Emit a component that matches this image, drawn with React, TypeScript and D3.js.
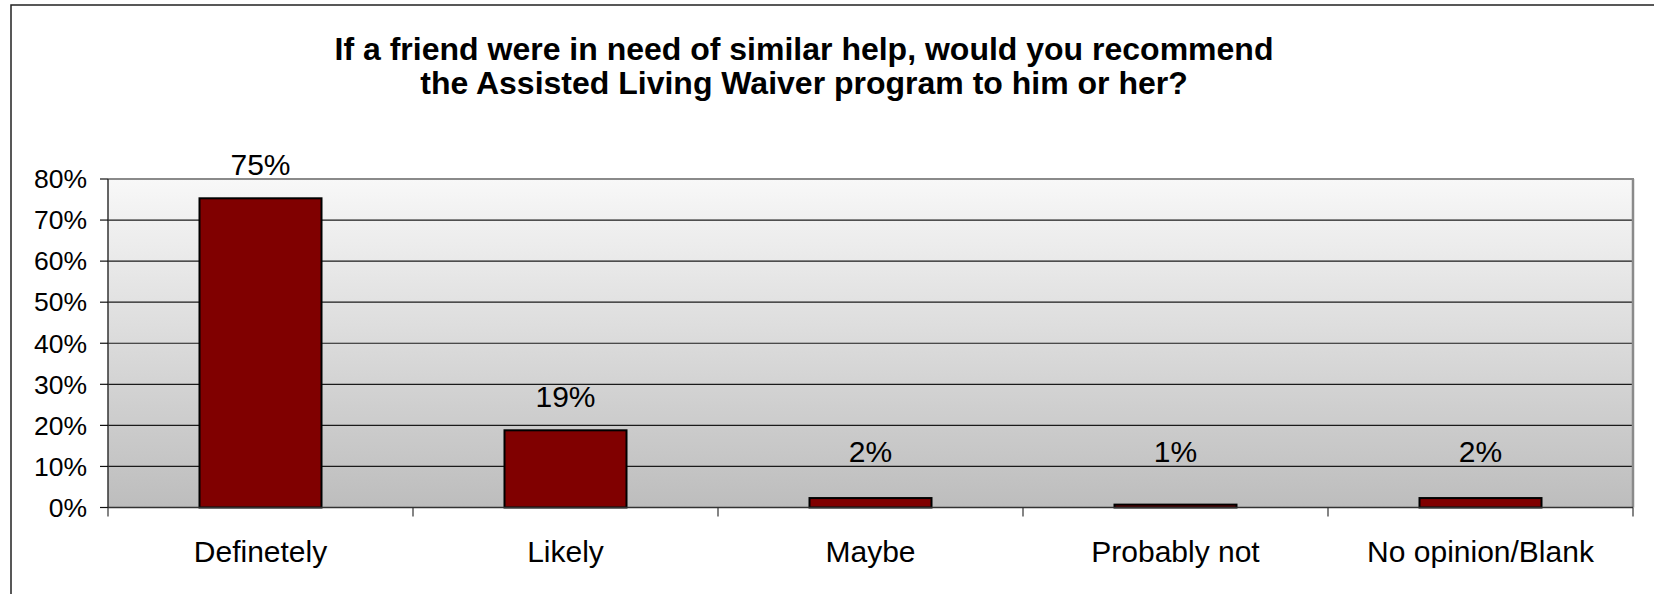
import React from "react";
import * as d3 from "d3";

const categories = ["Definetely", "Likely", "Maybe", "Probably not", "No opinion/Blank"];
const values = [0.753, 0.188, 0.023, 0.007, 0.023];
const valueLabels = ["75%", "19%", "2%", "1%", "2%"];
const yTicks = [0, 0.1, 0.2, 0.3, 0.4, 0.5, 0.6, 0.7, 0.8];
const titleLines = [
  "If a friend were in need of similar help, would you recommend",
  "the Assisted Living Waiver program to him or her?",
];

const W = 1654;
const H = 594;
const FONT = "'Liberation Sans', Arial, Helvetica, sans-serif";

export default function App() {
  const plotLeft = 108;
  const plotRight = 1633;
  const plotTop = 179;
  const plotBottom = 507.5;

  const x = d3
    .scaleBand<string>()
    .domain(categories)
    .range([plotLeft, plotRight])
    .paddingInner(0.6)
    .paddingOuter(0.3);
  const y = d3.scaleLinear().domain([0, 0.8]).range([plotBottom, plotTop]);
  const fmt = d3.format(".0%");
  const step = x.step();
  const boundaries = d3.range(categories.length + 1).map((i) => plotLeft + i * step);

  return (
    <div style={{ position: "fixed", left: 0, top: 0 }}>
      <svg width={W} height={H} style={{ display: "block" }} fontFamily={FONT}>
        <defs>
          <linearGradient id="bg" x1="0" y1="0" x2="0" y2="1">
            <stop offset="0" stopColor="#f8f8f8" />
            <stop offset="1" stopColor="#bdbdbd" />
          </linearGradient>
        </defs>
        <rect x={0} y={0} width={W} height={H} fill="#fff" />
        {/* chart frame */}
        <rect x={11} y={5} width={W + 20} height={H + 20} fill="none" stroke="#222" strokeWidth={1.5} />

        {/* title */}
        <text x={804} textAnchor="middle" fontWeight="bold" fontSize={32} fill="#000">
          {titleLines.map((t, i) => (
            <tspan key={i} x={804} y={60 + i * 34}>
              {t}
            </tspan>
          ))}
        </text>

        {/* plot area */}
        <rect
          x={plotLeft}
          y={plotTop}
          width={plotRight - plotLeft}
          height={plotBottom - plotTop}
          fill="url(#bg)"
        />
        {yTicks
          .filter((t) => t > 0 && t < 0.8)
          .map((t) => (
            <line key={t} x1={plotLeft} x2={plotRight} y1={y(t)} y2={y(t)} stroke="#1a1a1a" strokeWidth={1.2} />
          ))}
        {/* plot border top & right (gray) */}
        <line x1={plotLeft} x2={plotRight + 1} y1={plotTop} y2={plotTop} stroke="#8a8a8a" strokeWidth={2} />
        <line x1={plotRight} x2={plotRight} y1={plotTop} y2={plotBottom} stroke="#8a8a8a" strokeWidth={2.5} />

        {/* bars */}
        {categories.map((c, i) => (
          <rect
            key={c}
            x={x(c)}
            y={y(values[i])}
            width={x.bandwidth()}
            height={plotBottom - y(values[i])}
            fill="#800000"
            stroke="#000"
            strokeWidth={2}
          />
        ))}

        {/* axes */}
        <line x1={plotLeft} x2={plotLeft} y1={plotTop} y2={plotBottom} stroke="#333" strokeWidth={1.5} />
        <line x1={plotLeft} x2={plotRight} y1={plotBottom} y2={plotBottom} stroke="#333" strokeWidth={1.5} />
        {yTicks.map((t) => (
          <g key={t}>
            <line x1={plotLeft - 8} x2={plotLeft} y1={y(t)} y2={y(t)} stroke="#111" strokeWidth={1.2} />
            <text x={87} y={y(t) + 9.3} textAnchor="end" fontSize={26.5} fill="#000">
              {fmt(t)}
            </text>
          </g>
        ))}
        {boundaries.map((b, i) => (
          <line key={i} x1={b} x2={b} y1={plotBottom} y2={plotBottom + 9} stroke="#333" strokeWidth={1.2} />
        ))}

        {/* category labels */}
        {categories.map((c) => (
          <text key={c} x={(x(c) as number) + x.bandwidth() / 2} y={561.5} textAnchor="middle" fontSize={30} fill="#000">
            {c}
          </text>
        ))}

        {/* value labels */}
        {categories.map((c, i) => (
          <text
            key={c}
            x={(x(c) as number) + x.bandwidth() / 2}
            y={Math.min(y(values[i]) - 23, plotBottom - 46)}
            textAnchor="middle"
            fontSize={30}
            fill="#000"
          >
            {valueLabels[i]}
          </text>
        ))}
      </svg>
    </div>
  );
}
